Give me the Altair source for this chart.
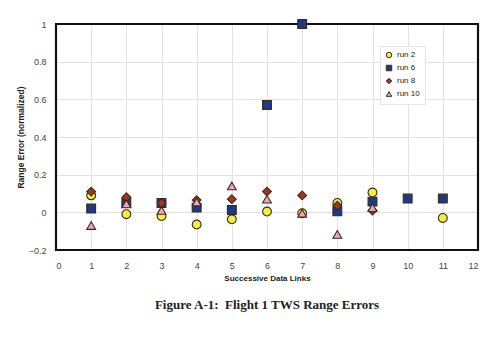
import altair as alt
import pandas as pd

links = [1, 2, 3, 4, 5, 6, 7, 8, 9, 10, 11]
run2 = [0.09, -0.01, -0.02, -0.065, -0.037, 0.004, -0.005, 0.05, 0.105, None, -0.03]
run6 = [0.02, 0.05, 0.05, 0.025, 0.012, 0.57, 1.0, 0.005, 0.057, 0.073, 0.073]
run8 = [0.11, 0.08, 0.05, 0.065, 0.07, 0.11, 0.09, 0.035, 0.01, None, None]
run10 = [-0.07, 0.045, 0.01, 0.055, 0.14, 0.07, -0.005, -0.117, 0.025, None, None]

series = [("run 2", run2), ("run 6", run6), ("run 8", run8), ("run 10", run10)]
rows = []
for order, (name, vals) in enumerate(series):
    for x, v in zip(links, vals):
        if v is not None:
            rows.append({"link": x, "err": v, "run": name, "order": order})
df = pd.DataFrame(rows)

runs = [s[0] for s in series]
fills = ["#f4ee3c", "#1e3a86", "#a3351f", "#f2a5b7"]
shapes = ["circle", "square", "diamond", "triangle-up"]
outline = ["#3a2a1a"] * 4

W, H = 422, 226

leg = alt.Legend(title=None, orient="none", legendX=324, legendY=22,
                 fillColor="white", strokeColor="#e4e4e4", padding=5,
                 labelFontSize=8, labelFont="Liberation Sans",
                 symbolSize=30, rowPadding=3, labelColor="#222",
                 symbolStrokeWidth=1)

points = alt.Chart(df).mark_point(
    filled=True, size=78, strokeWidth=1.1, opacity=1
).encode(
    x=alt.X("link:Q", scale=alt.Scale(domain=[0, 12], nice=False),
            axis=alt.Axis(values=list(range(0, 13)), title="Successive Data Links",
                          grid=True, gridColor="#e2e2e2", ticks=False, domain=False,
                          labelFontSize=9, labelColor="#444", labelPadding=11,
                          labelFont="Liberation Sans",
                          titleFont="Liberation Sans", titleFontSize=8, titleFontWeight="bold",
                          titleColor="#222", titlePadding=4)),
    y=alt.Y("err:Q", scale=alt.Scale(domain=[-0.2, 1], nice=False),
            axis=alt.Axis(values=[-0.2, 0, 0.2, 0.4, 0.6, 0.8, 1], title="Range Error (normalized)",
                          format="~g",
                          grid=True, gridColor="#e2e2e2", ticks=False, domain=False,
                          labelFontSize=9, labelColor="#444", labelPadding=10,
                          labelFont="Liberation Sans",
                          titleFont="Liberation Sans", titleFontSize=8.5, titleFontWeight="bold",
                          titleColor="#222", titlePadding=3)),
    fill=alt.Fill("run:N", scale=alt.Scale(domain=runs, range=fills), legend=leg),
    shape=alt.Shape("run:N", scale=alt.Scale(domain=runs, range=shapes), legend=leg),
    stroke=alt.Stroke("run:N", scale=alt.Scale(domain=runs, range=outline), legend=leg),
    order=alt.Order("order:Q"),
)

frame = alt.Chart(pd.DataFrame({"k": [0]})).mark_rect(
    fill=None, fillOpacity=0, stroke="#111", strokeWidth=2.2
).encode(
    x=alt.value(0), x2=alt.value(W), y=alt.value(0), y2=alt.value(H)
)

chart = alt.layer(frame, points).properties(
    width=W, height=H,
    background="white",
    title=alt.TitleParams("Figure A-1:\u00a0\u00a0Flight 1 TWS Range Errors", orient="bottom",
                          anchor="middle", font="Liberation Serif", fontSize=13,
                          fontWeight="bold", color="#222", offset=17),
    padding={"left": 56, "top": 24, "right": 23, "bottom": 97},
    autosize=alt.AutoSizeParams(type="none"),
)

chart.save("out.html", embed_options={"renderer": "svg", "actions": False})
